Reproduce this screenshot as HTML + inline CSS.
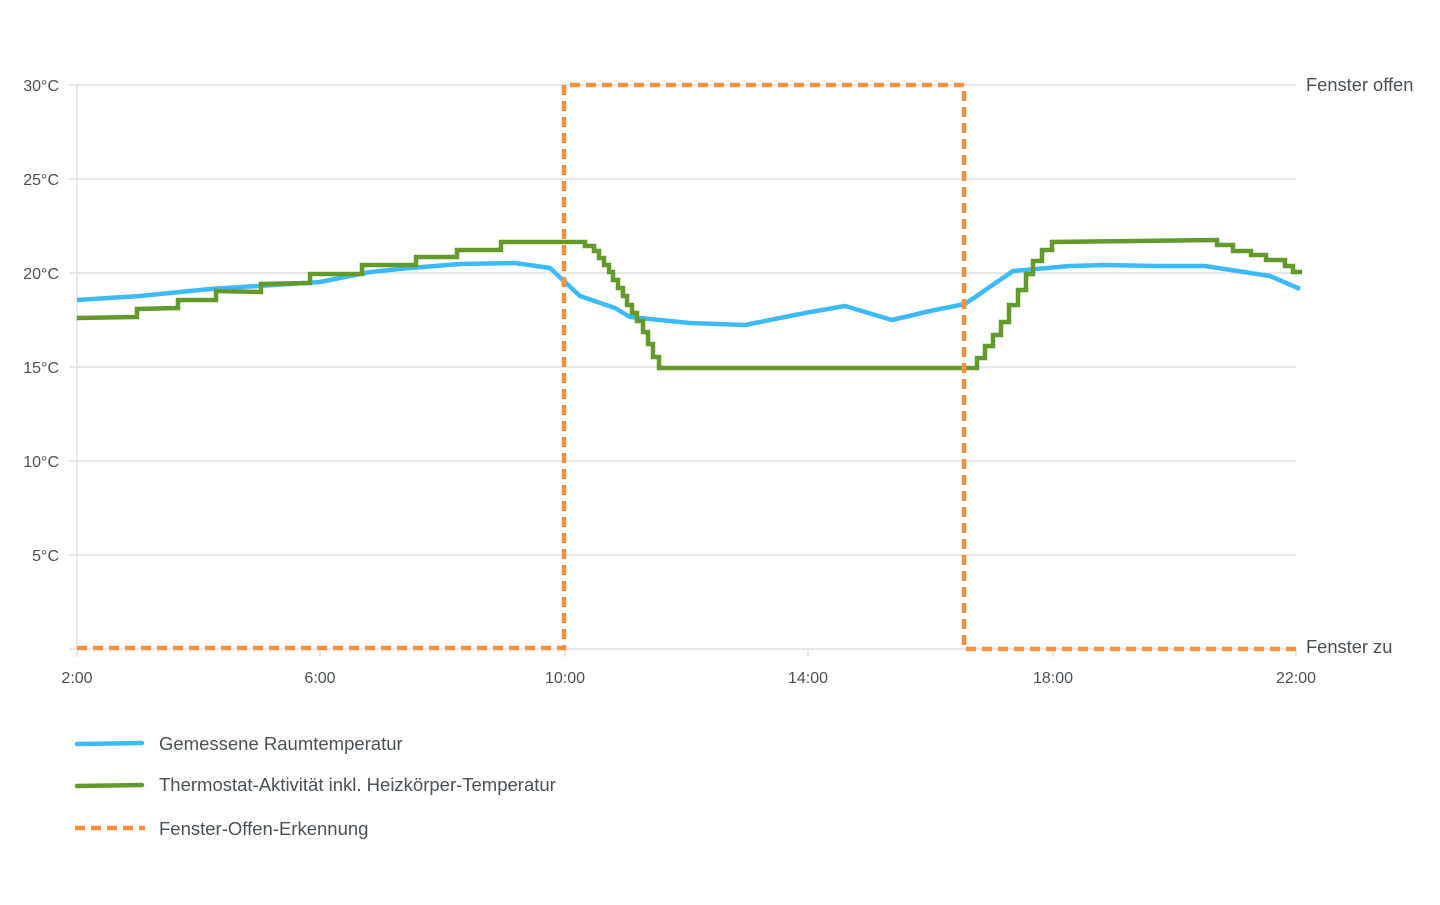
<!DOCTYPE html>
<html><head><meta charset="utf-8"><style>
body{margin:0;background:#fff;}
svg text{font-family:"Liberation Sans",sans-serif;fill:#4a5257;}
</style></head><body>
<svg width="1440" height="900" viewBox="0 0 1440 900" xmlns="http://www.w3.org/2000/svg">
<g stroke="#dde2e5" stroke-width="1.5">
<line x1="69" y1="85" x2="1296" y2="85"/>
<line x1="69" y1="179" x2="1296" y2="179"/>
<line x1="69" y1="273" x2="1296" y2="273"/>
<line x1="69" y1="367" x2="1296" y2="367"/>
<line x1="69" y1="461" x2="1296" y2="461"/>
<line x1="69" y1="555" x2="1296" y2="555"/>
<line x1="69" y1="649" x2="1296" y2="649"/>
<line x1="77" y1="85" x2="77" y2="657"/>
<line x1="320" y1="649" x2="320" y2="657"/>
<line x1="565" y1="649" x2="565" y2="657"/>
<line x1="808" y1="649" x2="808" y2="657"/>
<line x1="1053" y1="649" x2="1053" y2="657"/>
<line x1="1296" y1="649" x2="1296" y2="657"/>
</g>
<g font-size="16" text-anchor="end">
<text x="59" y="91">30°C</text>
<text x="59" y="185">25°C</text>
<text x="59" y="279">20°C</text>
<text x="59" y="373">15°C</text>
<text x="59" y="467">10°C</text>
<text x="59" y="561">5°C</text>
</g>
<g font-size="16" text-anchor="middle">
<text x="77" y="683">2:00</text>
<text x="320" y="683">6:00</text>
<text x="565" y="683">10:00</text>
<text x="808" y="683">14:00</text>
<text x="1053" y="683">18:00</text>
<text x="1296" y="683">22:00</text>
</g>
<text x="1306" y="91" font-size="18.3">Fenster offen</text>
<text x="1306" y="653" font-size="18.3">Fenster zu</text>
<polyline fill="none" stroke="#3dbbf8" stroke-width="4.5" stroke-linejoin="round" points="77,300 140,296 210,289 320,282 370,272 410,268 460,264 515,263 550,268 580,296 615,308 630,317 690,323 745,325 805,313 845,306 892,320 930,311 965,304 1013,271 1070,266 1105,265 1160,266 1205,266 1270,276 1300,289"/>
<polyline fill="none" stroke="#64992c" stroke-width="4.5" points="77,318 137,317 137,309 178,308 178,300 216,300 216,291 261,292 261,284 310,283 310,274 362,274 362,265 416,265 416,257 457,257 457,250 501,250 501,242 585,242 585,246 594,246 594,251 599,251 599,258 604,258 604,265 609,265 609,272 613,272 613,280 618,280 618,288 623,288 623,296 627,296 627,305 632,305 632,313 637,313 637,321 643,321 643,332 648,332 648,344 653,344 653,357 659,357 659,368 977,368 977,358 985,358 985,346 993,346 993,335 1001,335 1001,322 1009,322 1009,305 1018,305 1018,290 1026,290 1026,274 1033,274 1033,261 1042,261 1042,250 1052,250 1052,242 1217,240 1217,245 1233,245 1233,251 1251,251 1251,255 1266,255 1266,260 1285,260 1285,266 1293,266 1293,272 1302,272"/>
<polyline fill="none" stroke="#fc8f3a" stroke-width="4.5" stroke-dasharray="10,6" points="77,648 564,648 564,85 964,85 964,649 1300,649"/>
<line x1="77" y1="744" x2="142" y2="743" stroke="#3dbbf8" stroke-width="4.5" stroke-linecap="round"/>
<line x1="77" y1="786" x2="142" y2="785" stroke="#64992c" stroke-width="4.5" stroke-linecap="round"/>
<line x1="75" y1="828" x2="145" y2="828" stroke="#fc8f3a" stroke-width="4.5" stroke-dasharray="10,6"/>
<g font-size="18.5">
<text x="159" y="750">Gemessene Raumtemperatur</text>
<text x="159" y="791">Thermostat-Aktivität inkl. Heizkörper-Temperatur</text>
<text x="159" y="835">Fenster-Offen-Erkennung</text>
</g>
</svg>
</body></html>
